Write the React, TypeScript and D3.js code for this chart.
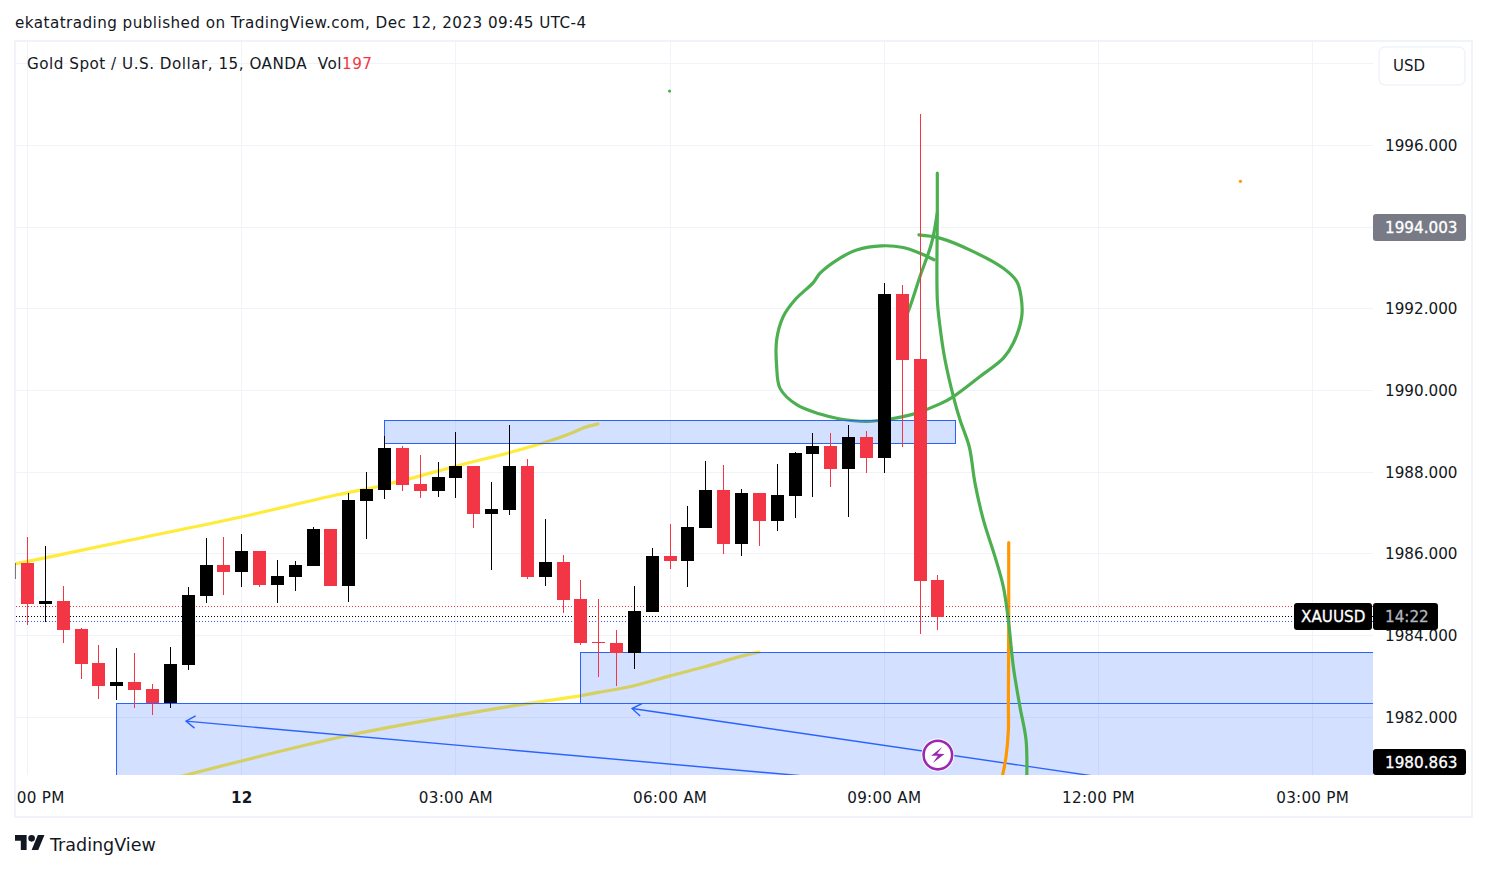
import React from "react";
import * as d3 from "d3";

const FONT = "'DejaVu Sans', sans-serif";

// Candles: index 0 is the bar cut off by the left edge of the pane
const opens = [1985.37,1985.76,1984.76,1984.83,1984.15,1983.31,1982.75,1982.85,1982.68,1982.33,1983.27,1984.96,1985.72,1985.54,1986.06,1985.23,1985.42,1985.69,1986.60,1985.20,1987.28,1987.55,1988.58,1987.70,1987.53,1987.85,1988.14,1986.96,1987.06,1988.14,1985.42,1985.79,1984.88,1983.83,1983.80,1983.56,1984.56,1985.94,1985.81,1986.62,1987.55,1986.23,1987.48,1986.79,1987.41,1988.43,1988.63,1988.07,1988.85,1988.34,1992.35,1990.76,1985.35];
const closes = [1985.76,1984.76,1984.83,1984.12,1983.29,1982.75,1982.85,1982.65,1982.33,1983.29,1984.98,1985.72,1985.54,1986.06,1985.23,1985.45,1985.72,1986.60,1985.20,1987.31,1987.58,1988.58,1987.68,1987.53,1987.87,1988.14,1986.96,1987.09,1988.14,1985.42,1985.79,1984.86,1983.80,1983.80,1983.56,1984.59,1985.94,1985.81,1986.65,1987.55,1986.23,1987.48,1986.79,1987.43,1988.46,1988.63,1988.07,1988.85,1988.34,1992.35,1990.74,1985.32,1984.44];
const highs = [1985.80,1986.40,1986.18,1985.20,1984.17,1983.76,1983.68,1983.56,1982.80,1983.71,1985.18,1986.38,1986.40,1986.47,1986.06,1985.84,1985.81,1986.65,1986.60,1987.48,1987.99,1988.88,1988.63,1988.41,1988.24,1988.97,1988.14,1987.75,1989.15,1988.31,1986.84,1985.96,1985.35,1984.88,1984.12,1985.20,1986.13,1986.72,1987.16,1988.26,1988.17,1987.58,1987.48,1988.19,1988.48,1988.95,1988.95,1989.15,1989.00,1992.62,1992.58,1996.76,1985.47];
const lows = [1985.30,1984.25,1984.32,1983.80,1982.92,1982.43,1982.41,1982.21,1982.04,1982.21,1983.14,1984.78,1984.98,1985.18,1985.18,1984.78,1985.08,1985.69,1985.20,1984.81,1986.35,1987.33,1987.53,1987.36,1987.38,1987.36,1986.62,1985.59,1986.94,1985.37,1985.20,1984.54,1983.76,1982.97,1982.75,1983.17,1984.56,1985.62,1985.18,1986.62,1985.98,1985.94,1986.18,1986.55,1986.87,1987.38,1987.63,1986.89,1987.97,1987.97,1988.61,1984.02,1984.12];

// Axes
const priceTicks = [1996, 1994, 1992, 1990, 1988, 1986, 1984, 1982];
const gridPrices = [1998, ...priceTicks];
const timeTicks = [
  { bar: 1, label: "00 PM", bold: false },
  { bar: 13, label: "12", bold: true },
  { bar: 25, label: "03:00 AM", bold: false },
  { bar: 37, label: "06:00 AM", bold: false },
  { bar: 49, label: "09:00 AM", bold: false },
  { bar: 61, label: "12:00 PM", bold: false },
  { bar: 73, label: "03:00 PM", bold: false },
];

// Indicator lines and drawings: [bar, price]
type P = [number, number];
const yellowUpper: P[] = [[0.3,1985.74],[2.99,1985.98],[6.91,1986.34],[12.96,1986.89],[18.11,1987.41],[20.75,1987.65],[22.43,1987.83],[25.04,1988.14],[28.03,1988.47],[29.88,1988.70],[31.56,1988.96],[32.12,1989.07],[32.96,1989.17]];
const yellowLower: P[] = [[9.54,1980.53],[19.07,1981.55],[26.73,1982.16],[29.15,1982.33],[31.95,1982.51],[33.07,1982.60],[34.92,1982.75],[36.99,1983.00],[38.67,1983.19],[39.96,1983.35],[40.91,1983.47],[41.98,1983.58]];
const greenLong: P[] = [[51.97,1995.31],[51.97,1994.34],[51.97,1992.21],[52.12,1991.55],[52.40,1990.74],[52.87,1989.84],[53.24,1989.27],[53.76,1988.61],[54.08,1987.72],[54.55,1986.82],[55.20,1985.92],[55.67,1985.18],[55.95,1984.37],[56.23,1983.22],[56.60,1982.24],[56.94,1981.43],[56.98,1980.45]];
const greenBranch: P[] = [[51.97,1994.34],[51.65,1993.60],[51.0,1992.78],[50.44,1992.04],[50.05,1991.60]];
const greenCircle: P[] = [[51.79,1993.19],[51.0,1993.35],[50.06,1993.49],[48.85,1993.53],[47.45,1993.43],[46.52,1993.23],[45.40,1992.86],[45.02,1992.63],[44.0,1992.21],[43.34,1991.80],[42.97,1991.23],[42.97,1990.57],[43.16,1990.04],[44.09,1989.64],[45.40,1989.41],[46.52,1989.29],[48.01,1989.23],[49.32,1989.29],[50.62,1989.41],[52.12,1989.66],[52.87,1989.84],[54.36,1990.33],[55.67,1990.78],[56.23,1991.15],[56.70,1991.80],[56.66,1992.29],[56.42,1992.66],[55.67,1992.98],[53.99,1993.39],[52.12,1993.72],[50.94,1993.80]];
const orangeLine: P[] = [[55.97,1986.26],[55.97,1984.37],[55.95,1982.33],[55.95,1981.67],[55.82,1981.02],[55.57,1980.45]];

const zoneTop: [P, P] = [[21,1989.26],[53,1988.69]];
const zoneMid: [P, P] = [[32,1983.57],[90,1982.32]];
const zoneLow: [P, P] = [[6,1982.32],[90,1980.3]];

const arrowA: [P, P] = [[46.5,1980.47],[9.88,1981.89]];
const arrowB: [P, P] = [[63.33,1980.38],[34.87,1982.20]];

const greenDot: P = [36.97,1997.32];
const orangeDot: P = [68.95,1995.11];
const boltMark: P = [52,1981.06];

// Horizontal price lines
const redLevel = 1984.70;
const lastLevel = 1984.45;
const blueLevel = 1984.33;

const W = 1487, H = 870;
const PANE = { left: 15.5, right: 1373, top: 42, bottom: 775 };

const x = d3.scaleLinear().domain([1, 49]).range([27.5, 884.3]);
const y = d3.scaleLinear().domain([1984, 1996]).range([635, 145]);

const RED = "#f23645";
const BLACK = "#000000";
const BLUE = "#2962ff";
const GREEN = "#4caf50";
const ORANGE = "#ff9800";
const YELLOW = "#ffeb3b";
const GRID = "#f0f3fa";
const INK = "#131722";

const curve = d3.line<P>().x(d => x(d[0])).y(d => y(d[1])).curve(d3.curveCatmullRom.alpha(0.5));

function Zone({ z }: { z: [P, P] }) {
  const [a, b] = z;
  return (
    <rect x={Math.floor(x(a[0])) + 0.5} y={Math.floor(y(a[1])) + 0.5}
      width={Math.floor(x(b[0])) - Math.floor(x(a[0]))} height={Math.floor(y(b[1])) - Math.floor(y(a[1]))}
      fill={BLUE} fillOpacity={0.2} stroke={BLUE} strokeWidth={1} />
  );
}

function Arrow({ a }: { a: [P, P] }) {
  const x0 = x(a[0][0]), y0 = y(a[0][1]), x1 = x(a[1][0]), y1 = y(a[1][1]);
  const t = Math.atan2(y1 - y0, x1 - x0);
  const L = 11, S = 0.6;
  const hx = (s: number) => x1 - L * Math.cos(t + s * S);
  const hy = (s: number) => y1 - L * Math.sin(t + s * S);
  return (
    <g fill="none" stroke={BLUE} strokeWidth={1.4}>
      <line x1={x0} y1={y0} x2={x1} y2={y1} />
      <path d={`M${hx(1)},${hy(1)}L${x1},${y1}L${hx(-1)},${hy(-1)}`} />
    </g>
  );
}

export default function App() {
  const tickFont = { fontFamily: FONT, fontSize: 15.2, fill: INK };
  const labelInk = { strokeWidth: 0.3, paintOrder: "stroke" as const };
  return (
    <svg width={W} height={H} viewBox={`0 0 ${W} ${H}`}
      style={{ position: "absolute", left: 0, top: 0, display: "block", background: "#fff" }}>
      <defs>
        <clipPath id="pane">
          <rect x={PANE.left} y={PANE.top} width={PANE.right - PANE.left} height={PANE.bottom - PANE.top} />
        </clipPath>
        <clipPath id="timeAxis">
          <rect x={16} y={PANE.bottom} width={1455} height={40} />
        </clipPath>
      </defs>

      <text x={15} y={28} fontFamily={FONT} fontSize={15.2} letterSpacing={0.44} fill={INK}>
        ekatatrading published on TradingView.com, Dec 12, 2023 09:45 UTC-4
      </text>

      <rect x={15} y={41} width={1457} height={776} fill="none" stroke={GRID} strokeWidth={2} />

      {/* plot */}
      <g clipPath="url(#pane)">
        <g stroke={GRID} strokeWidth={1} shapeRendering="crispEdges">
          {gridPrices.map(p => (
            <line key={p} x1={PANE.left} x2={PANE.right} y1={Math.round(y(p)) + 0.5} y2={Math.round(y(p)) + 0.5} />
          ))}
          {timeTicks.map(t => (
            <line key={t.bar} y1={PANE.top} y2={PANE.bottom} x1={Math.floor(x(t.bar)) + 0.5} x2={Math.floor(x(t.bar)) + 0.5} />
          ))}
        </g>

        <g fill="none" strokeLinecap="round" strokeLinejoin="round">
          <path d={curve(yellowUpper)!} stroke={YELLOW} strokeWidth={3.2} />
          <path d={curve(yellowLower)!} stroke={YELLOW} strokeWidth={3.2} />
        </g>

        <Zone z={zoneMid} />
        <Zone z={zoneLow} />
        <Arrow a={arrowA} />
        <Arrow a={arrowB} />

        <g fill="none" strokeLinecap="round" strokeLinejoin="round" strokeWidth={3.2}>
          <path d={curve(orangeLine)!} stroke={ORANGE} />
          <path d={curve(greenLong)!} stroke={GREEN} />
          <path d={curve(greenBranch)!} stroke={GREEN} />
          <path d={curve(greenCircle)!} stroke={GREEN} />
        </g>

        <Zone z={zoneTop} />

        <circle cx={x(greenDot[0])} cy={y(greenDot[1])} r={1.6} fill={GREEN} />
        <circle cx={x(orangeDot[0])} cy={y(orangeDot[1])} r={1.6} fill={ORANGE} />

        <g strokeWidth={1} strokeDasharray="1 2" shapeRendering="crispEdges">
          <line x1={PANE.left} x2={PANE.right} y1={Math.floor(y(redLevel)) + 0.5} y2={Math.floor(y(redLevel)) + 0.5} stroke={RED} />
          <line x1={PANE.left} x2={PANE.right} y1={Math.floor(y(lastLevel)) + 0.5} y2={Math.floor(y(lastLevel)) + 0.5} stroke={BLACK} />
          <line x1={PANE.left} x2={PANE.right} y1={Math.floor(y(blueLevel)) + 0.5} y2={Math.floor(y(blueLevel)) + 0.5} stroke={BLUE} />
        </g>

        <g shapeRendering="crispEdges">
          {opens.map((o, i) => {
            const c = closes[i];
            const col = c >= o ? BLACK : RED;
            const left = Math.round(x(i) - 6.5);
            const top = Math.round(y(Math.max(o, c)));
            const bottom = Math.round(y(Math.min(o, c)));
            return (
              <g key={i} fill={col}>
                <rect x={left + 6} width={1} y={Math.round(y(highs[i]))} height={Math.round(y(lows[i])) - Math.round(y(highs[i]))} />
                <rect x={left} width={13} y={top} height={Math.max(1, bottom - top)} />
              </g>
            );
          })}
        </g>

        <g transform={`translate(${x(boltMark[0])},${y(boltMark[1])})`}>
          <circle r={16.5} fill="#ffffff" />
          <circle r={14.3} fill="#ffffff" stroke="#9c27b0" strokeWidth={2.6} />
          <path d="M4.3,-8 L-6.7,0.7 L0,0.7 L-5,8 L6.7,-1 L-0.7,-1.3 Z" fill="#9c27b0" />
        </g>
      </g>

      {/* price axis */}
      <g>
        {priceTicks.map(p => (
          <text key={p} x={1385} y={y(p) + 6} {...tickFont}>{d3.format(".3f")(p)}</text>
        ))}
      </g>

      <rect x={1379} y={47} width={86} height={38} rx={6} fill="#fff" stroke={GRID} strokeWidth={1.5} />
      <text x={1393} y={71} {...tickFont} fontSize={15}>USD</text>

      <rect x={1373} y={214} width={93} height={27} rx={3} fill="#787b86" />
      <text x={1385} y={233} {...tickFont} {...labelInk} fill="#ffffff" stroke="#ffffff">1994.003</text>

      <rect x={1294} y={603} width={78} height={27} rx={3} fill="#000" />
      <text x={1301} y={622} {...tickFont} {...labelInk} fill="#ffffff" stroke="#ffffff">XAUUSD</text>
      <rect x={1373} y={603} width={65} height={27} rx={3} fill="#000" />
      <text x={1385} y={622} {...tickFont} {...labelInk} fill="#b2b5be" stroke="#b2b5be">14:22</text>

      <rect x={1373} y={749} width={93} height={26} rx={3} fill="#000" />
      <text x={1385} y={768} {...tickFont} {...labelInk} fill="#ffffff" stroke="#ffffff">1980.863</text>

      {/* time axis */}
      <g clipPath="url(#timeAxis)">
        {timeTicks.map(t => (
          t.label === "00 PM"
            ? <text key={t.bar} x={x(t.bar) + 37} y={802.5} textAnchor="end" letterSpacing={0.25} {...tickFont}>{t.label}</text>
            : <text key={t.bar} x={x(t.bar)} y={802.5} textAnchor="middle" letterSpacing={0.25} {...tickFont} fontWeight={t.bold ? 700 : 400}>{t.label}</text>
        ))}
      </g>

      <text x={27} y={69} fontFamily={FONT} fontSize={15.2} letterSpacing={0.5} fill={INK} xmlSpace="preserve">
        Gold Spot / U.S. Dollar, 15, OANDA  Vol<tspan fill={RED}>197</tspan>
      </text>

      {/* logo */}
      <g transform="translate(15,831.7) scale(0.83)" fill={INK}>
        <path d="M14 22H7V11H0V4h14v18zM28 22h-8l7.5-18h8L28 22z" />
        <circle cx={20} cy={8} r={4} />
      </g>
      <text x={50} y={850.5} fontFamily={FONT} fontSize={17.5} fill={INK}>TradingView</text>
    </svg>
  );
}
